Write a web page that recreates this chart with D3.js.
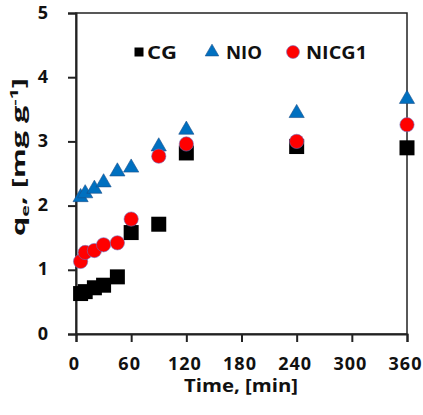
<!DOCTYPE html>
<html>
<head>
<meta charset="utf-8">
<script src="https://cdn.jsdelivr.net/npm/d3@7"></script>
<style>
  body { margin: 0; background: #fff; }
  text { font-family: "Open Sans", sans-serif; font-weight: bold; fill: #111; }
</style>
</head>
<body>
<svg id="chart"></svg>
<script>
const times = [5, 10, 20, 30, 45, 60, 90, 120, 240, 360];
const cgValues = [0.63, 0.66, 0.72, 0.76, 0.89, 1.58, 1.71, 2.82, 2.92, 2.90];
const nioValues = [2.13, 2.19, 2.26, 2.36, 2.53, 2.59, 2.92, 3.18, 3.44, 3.66];
const nicgValues = [1.13, 1.27, 1.30, 1.39, 1.42, 1.79, 2.77, 2.96, 3.00, 3.26];
const xTicks = [0, 60, 120, 180, 240, 300, 360];
const yTicks = [0, 1, 2, 3, 4, 5];

const width = 423, height = 415;
const margin = {top: 13, right: 16, bottom: 81, left: 76};
const w = width - margin.left - margin.right;
const h = height - margin.top - margin.bottom;

const svg = d3.select("#chart").attr("width", width).attr("height", height);
const g = svg.append("g").attr("transform", `translate(${margin.left},${margin.top})`);

const x = d3.scaleLinear().domain([0, 360]).range([0, w]);
const y = d3.scaleLinear().domain([0, 5]).range([h, 0]);

// frame
g.append("rect")
    .attr("width", w).attr("height", h)
    .attr("fill", "none").attr("stroke", "#222").attr("stroke-width", 1.5);

const xAxis = g.append("g")
    .attr("transform", `translate(0,${h})`)
    .call(d3.axisBottom(x).tickValues(xTicks).tickSize(8).tickPadding(15));
const yAxis = g.append("g")
    .call(d3.axisLeft(y).tickValues(yTicks).tickFormat(d3.format("d")).tickSize(8).tickPadding(19));

[xAxis, yAxis].forEach(a => {
    a.select(".domain").attr("stroke", "#222").attr("stroke-width", 2);
    a.selectAll(".tick line").attr("stroke", "#222").attr("stroke-width", 2);
    a.selectAll(".tick text").style("font-size", "18px").style("letter-spacing", "1px").attr("fill", "#111");
});
xAxis.selectAll(".tick text").attr("dx", -2);
yAxis.selectAll(".tick text").attr("dy", "0.28em");

const series = [
    {name: "CG", values: cgValues, shape: d3.symbolSquare, size: 225, legendSize: 81, color: "#000000", stroke: "none", lx: 139, tx: 147, tw: 30},
    {name: "NIO", values: nioValues, shape: d3.symbolTriangle, size: 100, legendSize: 80, color: "#0070C0", stroke: "#1a4f8a", lx: 212, tx: 226, tw: 36},
    {name: "NICG1", values: nicgValues, shape: d3.symbolCircle, size: 160, legendSize: 130, color: "#FF0000", stroke: "#6f6fc0", lx: 293, tx: 306, tw: 61}
];

series.forEach(s => {
    g.append("g").selectAll("path")
        .data(times.map((t, i) => ({t, v: s.values[i]})))
        .join("path")
        .attr("transform", d => `translate(${x(d.t)},${y(d.v)})`)
        .attr("d", d3.symbol(s.shape, s.size))
        .attr("fill", s.color)
        .attr("stroke", s.stroke)
        .attr("stroke-width", 0.6);
});

// legend
const legend = svg.append("g");
series.forEach(s => {
    legend.append("path")
        .attr("transform", `translate(${s.lx},52)`)
        .attr("d", d3.symbol(s.shape, s.legendSize))
        .attr("fill", s.color)
        .attr("stroke", s.stroke)
        .attr("stroke-width", 0.6);
    legend.append("text")
        .attr("x", s.tx)
        .attr("y", 59)
        .attr("textLength", s.tw)
        .attr("lengthAdjust", "spacingAndGlyphs")
        .style("font-size", "17px")
        .text(s.name);
});

// axis titles
svg.append("text")
    .attr("x", 241)
    .attr("y", 392)
    .attr("text-anchor", "middle")
    .attr("textLength", 114)
    .attr("lengthAdjust", "spacingAndGlyphs")
    .style("font-size", "17px")
    .text("Time, [min]");

const yTitle = svg.append("text")
    .attr("transform", `translate(25,157) rotate(-90)`)
    .attr("text-anchor", "middle")
    .attr("textLength", 158)
    .attr("lengthAdjust", "spacingAndGlyphs")
    .style("font-size", "17px");
yTitle.append("tspan").text("q");
yTitle.append("tspan").attr("dy", 4).style("font-size", "11px").text("e");
yTitle.append("tspan").attr("dy", -4).text(", [mg g");
yTitle.append("tspan").attr("dy", -7).style("font-size", "11px").text("-1");
yTitle.append("tspan").attr("dy", 7).text("]");
</script>
</body>
</html>
